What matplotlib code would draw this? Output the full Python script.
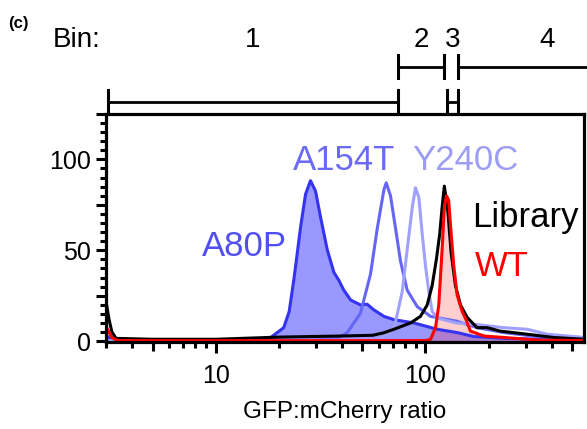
import matplotlib
matplotlib.use("Agg")
import matplotlib.pyplot as plt

plt.rcParams['font.family'] = ['Liberation Sans', 'DejaVu Sans']

# histogram traces (x: GFP:mCherry ratio, y: normalised count)
a80p_x = [3, 3.2, 5, 10, 15, 18.3, 21.1, 22.4, 23.6, 25.4, 26.8, 28.3, 29.9, 31.6, 34, 36.6, 38.7,
          40.8, 44, 49, 52.7, 56.7, 63.4, 70.7, 88, 113.8, 141.6, 170, 240, 350, 570]
a80p_y = [3, 0.8, 0.5, 0.5, 0.8, 2, 7.4, 16.3, 34.2, 62.9, 80.8, 88.3, 82.6, 68.3, 50.4, 37.8, 33.3,
          28, 22.6, 19.9, 20.3, 17.2, 13.6, 11.8, 10, 6.5, 4.7, 2.5, 1.5, 1, 0.5]

a154t_x = [3, 10, 30, 38, 42.4, 49, 54.7, 58.9, 63.4, 65, 68.1, 72, 76, 81.8, 91.3, 105.7, 141.6,
           176, 236, 340, 570]
a154t_y = [0.3, 0.3, 0.5, 1.5, 4.7, 15.4, 36.9, 62, 83.5, 87.1, 80, 62, 44, 28, 19, 13.6, 10.9,
           7.4, 4.7, 2.5, 1]

y240c_x = [3, 30, 60, 70.7, 77.4, 81.8, 86.5, 89.6, 93, 96.4, 100, 103.8, 107.6, 113.8, 140, 176,
           236, 305, 380, 570]
y240c_y = [0.2, 0.3, 1, 6.5, 27, 50.4, 73.7, 84.4, 79, 59.3, 41.4, 27, 16.3, 12.7, 10, 9.1,
           7.4, 6.5, 3.8, 2]

lib_x = [3, 3.1, 3.2, 3.35, 5, 10, 20, 40, 56, 63, 70.7, 84.9, 94.6, 101.9, 107.6, 112.7, 117, 120,
         123, 127.7, 132.5, 138.9, 146.8, 158, 176, 197, 227, 305, 408, 570]
lib_y = [22, 12, 5, 1.5, 1, 1, 2.2, 2.8, 3.2, 4.5, 6.5, 10, 13.6, 19.9, 30.6, 45, 59.3, 73.7,
         85.3, 71.9, 48.5, 30.6, 19.9, 13, 7.4, 7.4, 5.5, 3.8, 2, 1]

wt_x = [3, 3.2, 3.4, 10, 100, 105.7, 111.6, 115.7, 120, 123, 125.9, 129, 132.5, 136.4, 141.6, 149.6,
        156, 163.7, 189.7, 236, 350, 570]
wt_y = [8, 2, 0.3, 0.2, 0.3, 1, 7.4, 19.9, 50.4, 73.7, 80, 77.3, 59.3, 41.4, 25.3, 16.3,
        11.8, 5.5, 2.8, 2, 0.5, 0.3]

# sorting bins (GFP:mCherry ratio ranges)
bin_names = ["1", "2", "3", "4"]
bin_lo = [3.05, 74, 127, 143]
bin_hi = [74, 122, 143, 800]
bin_label_x = [15, 95.5, 134.5, 381]

fig = plt.figure(figsize=(5.87, 4.29), dpi=100)
ax = fig.add_axes([0.1806, 0.2028, 0.8144, 0.5315])

ax.fill_between(a80p_x, a80p_y, color="#3333ff", alpha=0.5, lw=0)
ax.plot(a80p_x, a80p_y, color="#3333f0", lw=2.2)
ax.plot(a154t_x, a154t_y, color="#6666f5", lw=2.2)
ax.plot(y240c_x, y240c_y, color="#a0a0ff", lw=2.2)
ax.fill_between(wt_x, wt_y, color="#ff2020", alpha=0.22, lw=0)
ax.plot(lib_x, lib_y, color="black", lw=2.2)
ax.plot(wt_x, wt_y, color="#ff0000", lw=2.2)

ax.text(13.75, 46.8, "A80P", color="#5050f0", fontsize=25, ha="center", va="baseline")
ax.text(41.1, 94, "A154T", color="#6a6af5", fontsize=25, ha="center", va="baseline")
ax.text(155, 94, "Y240C", color="#9d9df5", fontsize=25, ha="center", va="baseline")
ax.text(299, 62.9, "Library", color="black", fontsize=25, ha="center", va="baseline")
ax.text(230, 36, "WT", color="#ff0000", fontsize=25, ha="center", va="baseline")

ax.set_xscale("log")
ax.set_xlim(3, 570)
ax.set_ylim(-0.5, 122.5)

for s in ax.spines.values():
    s.set_linewidth(2.3)

ax.set_xticks([5, 10, 50, 100, 500])
ax.set_xticklabels(["", "10", "", "100", ""])
ax.set_xticks([3, 4, 6, 7, 8, 9, 20, 30, 40, 60, 70, 80, 90, 200, 300, 400], minor=True)
ax.xaxis.set_minor_formatter(plt.NullFormatter())
ax.tick_params(axis="x", which="major", length=8, width=2.2, pad=8, labelsize=18)
ax.tick_params(axis="x", which="minor", length=4.5, width=2.2)
for t, v in zip(ax.xaxis.get_major_ticks(), [5, 10, 50, 100, 500]):
    if v in (5, 50, 500):
        t.tick1line.set_markersize(6.5)

ax.set_yticks([0, 25, 50, 75, 100, 125])
ax.set_yticklabels(["0", "", "50", "", "100", ""])
ax.set_yticks(range(0, 125, 5), minor=True)
ax.tick_params(axis="y", which="major", length=7, width=2.2, pad=4, labelsize=18)
ax.tick_params(axis="y", which="minor", length=4, width=2.2)

ax.set_xlabel("GFP:mCherry ratio", fontsize=17.5, labelpad=9)

# bin brackets above the axes
trans = ax.get_xaxis_transform()
levels = [1.054, 1.2075, 1.054, 1.2075]
for i in range(4):
    lev = levels[i]
    cap = 0.05
    ax.plot([bin_lo[i], bin_hi[i]], [lev, lev], color="black", lw=2, transform=trans, clip_on=False)
    ax.plot([bin_lo[i], bin_lo[i]], [lev - cap, lev + cap], color="black", lw=2.2,
            transform=trans, clip_on=False)
    if i < 3:
        ax.plot([bin_hi[i], bin_hi[i]], [lev - cap, lev + cap], color="black", lw=2.2,
                transform=trans, clip_on=False)
    ax.text(bin_label_x[i], 1.325, bin_names[i], fontsize=20, ha="center", va="center",
            transform=trans)

fig.text(0.09, 0.907, "Bin:", fontsize=20, ha="left", va="center")
fig.text(0.013, 0.945, "(c)", fontsize=12, fontweight="bold", ha="left", va="center")

fig.savefig("out.png", dpi=100)
